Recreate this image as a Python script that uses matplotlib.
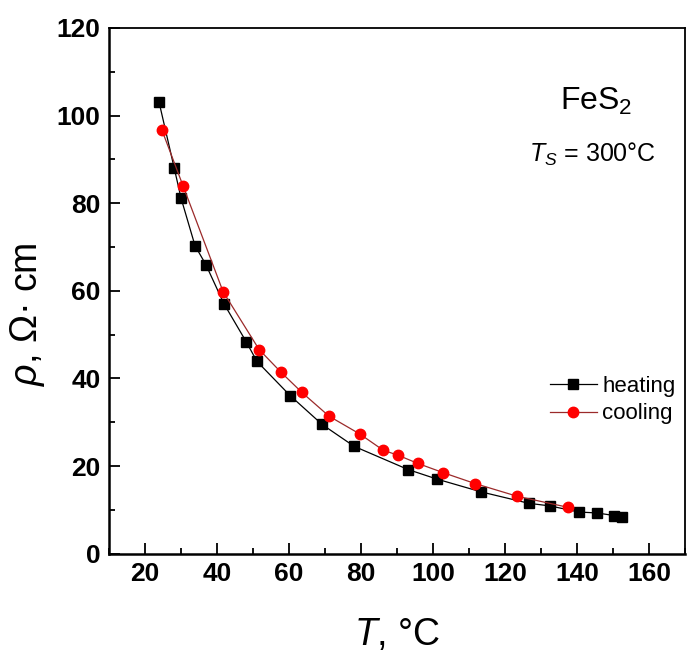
import numpy as np
import matplotlib.pyplot as plt
from matplotlib.ticker import MultipleLocator

# heating run (black squares)
heat_T = [23.9, 28.1, 30.0, 33.9, 36.9, 41.9, 48.1, 51.1, 60.3, 69.2, 78.1,
          93.1, 101.2, 113.4, 126.6, 132.5, 140.6, 145.5, 150.4, 152.4]
heat_rho = [103.1, 88.1, 81.2, 70.3, 66.0, 57.1, 48.4, 43.9, 36.1, 29.5, 24.5,
            19.2, 17.0, 14.1, 11.5, 10.9, 9.5, 9.3, 8.7, 8.4]

# cooling run (red circles)
cool_T = [24.7, 30.6, 41.7, 51.7, 57.8, 63.6, 71.1, 79.7, 86.2, 90.2, 95.8,
          102.8, 111.7, 123.4, 137.4]
cool_rho = [96.7, 83.9, 59.8, 46.6, 41.4, 36.8, 31.4, 27.3, 23.6, 22.5, 20.6,
            18.5, 16.0, 13.1, 10.6]

plt.rcParams['font.family'] = ['Liberation Sans', 'DejaVu Sans']
plt.rcParams['mathtext.fontset'] = 'custom'
plt.rcParams['mathtext.rm'] = 'Liberation Sans'
plt.rcParams['mathtext.it'] = 'Liberation Sans:italic'

fig = plt.figure(figsize=(6.88, 6.65), dpi=100)
ax = fig.add_axes([0.1584, 0.1674, 0.8372, 0.7906])

ax.plot(heat_T, heat_rho, color='black', lw=0.9, marker='s', ms=7,
        mfc='black', mec='black', label='heating', zorder=3)
ax.plot(cool_T, cool_rho, color='#9b2a2a', lw=0.9, marker='o', ms=7.5,
        mfc='red', mec='red', label='cooling', zorder=4)

ax.set_xlim(10, 170)
ax.set_ylim(0, 120)
ax.xaxis.set_major_locator(MultipleLocator(20))
ax.xaxis.set_minor_locator(MultipleLocator(10))
ax.yaxis.set_major_locator(MultipleLocator(20))
ax.yaxis.set_minor_locator(MultipleLocator(10))
ax.set_xticks([20, 40, 60, 80, 100, 120, 140, 160])
ax.tick_params(which='major', direction='in', length=8, width=1.3,
               top=False, right=False, pad=6)
ax.tick_params(which='minor', direction='in', length=4, width=1.3,
               top=False, right=False)
for lab in ax.get_xticklabels() + ax.get_yticklabels():
    lab.set_fontweight('bold')
    lab.set_fontsize(19)

for s in ax.spines.values():
    s.set_linewidth(1.3)
ax.spines['bottom'].set_linewidth(1.8)
ax.spines['left'].set_linewidth(1.8)

ax.set_xlabel(r'$\mathit{T}$, °C', fontsize=27, labelpad=22)
ax.set_ylabel(r'$\mathit{\rho}$, Ω· cm', fontsize=27)
ax.yaxis.label.set_verticalalignment('center')
ax.yaxis.set_label_coords(-0.141, 0.455)

ax.text(0.845, 0.86, r'FeS$_2$', transform=ax.transAxes, fontsize=23,
        ha='center', va='center')
ax.text(0.84, 0.76, r'$\mathit{T}_{\mathit{S}}$ = 300°C', transform=ax.transAxes,
        fontsize=18, ha='center', va='center')

leg = ax.legend(loc='center left', bbox_to_anchor=(0.75, 0.292), frameon=False,
                fontsize=16, handlelength=2.1, handletextpad=0.25,
                labelspacing=0.3, borderaxespad=0)

fig.savefig('out.png', dpi=100)
